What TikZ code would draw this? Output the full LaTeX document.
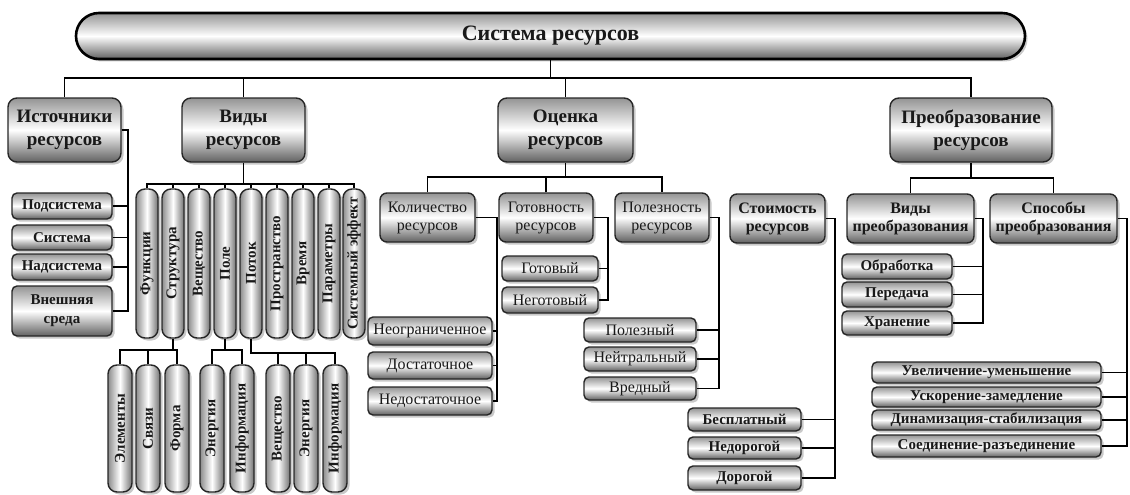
\documentclass[tikz,border=0pt]{standalone}
\usepackage{fontspec}
\usepackage{graphicx}
\setmainfont{Liberation Serif}
\usetikzlibrary{shadows}
\newcommand\mkbox[7]{%
  \pgfmathsetmacro\bxcx{(#2+#4)/2}%
  \pgfmathsetmacro\bxcy{(#3+#5)/2}%
  \pgfmathsetmacro\bxw{#4-#2}%
  \pgfmathsetmacro\bxh{#5-#3}%
  \node[#6, minimum width=\bxw pt, minimum height=\bxh pt] (#1) at (\bxcx,\bxcy) {#7};}
\newcommand\vlab[1]{\rotatebox{90}{#1}}
\tikzset{
  common/.style={draw=black!85, line width=1.4pt, align=center, inner sep=0pt, text=black!90,
    drop shadow={shadow xshift=2.5pt, shadow yshift=-2.5pt, opacity=0.3, fill=black!70}},
  vshade/.style={top color=black!42, bottom color=black!62, middle color=white},
  hshade/.style={left color=black!45, right color=black!55, middle color=white},
  topbar/.style={common, vshade, draw=black, line width=2.6pt, rounded corners=23pt,
    font=\fontsize{22}{26}\selectfont\bfseries},
  lvltwo/.style={common, vshade, rounded corners=9pt, font=\fontsize{19}{23}\selectfont\bfseries},
  lvlthree/.style={common, vshade, rounded corners=7pt, font=\fontsize{16}{18}\selectfont\bfseries},
  lvlthreer/.style={common, vshade, rounded corners=7pt, font=\fontsize{16}{18}\selectfont},
  smallb/.style={common, vshade, rounded corners=5pt, font=\fontsize{15}{19}\selectfont\bfseries},
  smallr/.style={common, vshade, rounded corners=5pt, font=\fontsize{16}{19}\selectfont},
  colbox/.style={common, hshade, rounded corners=9pt, font=\fontsize{15}{18}\selectfont\bfseries},
  conn/.style={draw=black, line width=1.2pt},
}
\begin{document}
\begin{tikzpicture}[x=1pt, y=-1pt]
\useasboundingbox (0,0) rectangle (1130,495);
% top
\mkbox{top}{76}{13}{1025}{59}{topbar}{Система ресурсов}
% level 2
\mkbox{ist}{8}{98}{121}{162}{lvltwo}{Источники\\ресурсов}
\mkbox{vidy}{182}{98}{305}{162}{lvltwo}{Виды\\ресурсов}
\mkbox{ocen}{498}{98}{633}{162}{lvltwo}{Оценка\\ресурсов}
\mkbox{preo}{890}{98}{1052}{162}{lvltwo}{Преобразование\\ресурсов}
% sources
\mkbox{podsys}{12}{193}{112}{219}{smallb}{Подсистема}
\mkbox{sys}{12}{225}{112}{250}{smallb}{Система}
\mkbox{nadsys}{12}{254}{112}{280}{smallb}{Надсистема}
\mkbox{vnesh}{12}{286}{112}{336}{smallb}{Внешняя\\среда}
% columns
\mkbox{c1}{136}{189}{158}{338}{colbox}{\vlab{Функции}}
\mkbox{c2}{162}{189}{184}{338}{colbox}{\vlab{Структура}}
\mkbox{c3}{188}{189}{210}{338}{colbox}{\vlab{Вещество}}
\mkbox{c4}{214}{189}{236}{338}{colbox}{\vlab{Поле}}
\mkbox{c5}{240}{189}{262}{338}{colbox}{\vlab{Поток}}
\mkbox{c6}{266}{189}{288}{338}{colbox}{\vlab{Пространство}}
\mkbox{c7}{292}{189}{314}{338}{colbox}{\vlab{Время}}
\mkbox{c8}{318}{189}{340}{338}{colbox}{\vlab{Параметры}}
\mkbox{c9}{343}{189}{365}{338}{colbox}{\vlab{Системный эффект}}
% sub columns
\mkbox{s1}{108}{365}{132}{492}{colbox}{\vlab{Элементы}}
\mkbox{s2}{136}{365}{160}{492}{colbox}{\vlab{Связи}}
\mkbox{s3}{165}{365}{189}{492}{colbox}{\vlab{Форма}}
\mkbox{s4}{200}{365}{224}{492}{colbox}{\vlab{Энергия}}
\mkbox{s5}{230}{365}{254}{492}{colbox}{\vlab{Информация}}
\mkbox{s6}{266}{365}{290}{492}{colbox}{\vlab{Вещество}}
\mkbox{s7}{294}{365}{318}{492}{colbox}{\vlab{Энергия}}
\mkbox{s8}{323}{365}{347}{492}{colbox}{\vlab{Информация}}
% evaluation
\mkbox{kol}{380}{193}{475}{242}{lvlthreer}{Количество\\ресурсов}
\mkbox{got}{499}{193}{593}{242}{lvlthreer}{Готовность\\ресурсов}
\mkbox{pol}{615}{193}{709}{242}{lvlthreer}{Полезность\\ресурсов}
\mkbox{stoim}{730}{194}{825}{243}{lvlthree}{Стоимость\\ресурсов}
\mkbox{neogr}{368}{317}{492}{345}{smallr}{Неограниченное}
\mkbox{dost}{368}{352}{492}{379}{smallr}{Достаточное}
\mkbox{nedost}{368}{387}{492}{415}{smallr}{Недостаточное}
\mkbox{gotov}{502}{256}{598}{281}{smallr}{Готовый}
\mkbox{negot}{502}{287}{598}{313}{smallr}{Неготовый}
\mkbox{polez}{584}{318}{696}{342}{smallr}{Полезный}
\mkbox{neitr}{584}{347}{696}{371}{smallr}{Нейтральный}
\mkbox{vred}{584}{377}{696}{400}{smallr}{Вредный}
\mkbox{besp}{688}{408}{801}{431}{smallb}{Бесплатный}
\mkbox{nedor}{688}{437}{801}{459}{smallb}{Недорогой}
\mkbox{dor}{688}{466}{801}{490}{smallb}{Дорогой}
% transformation
\mkbox{vidpr}{847}{194}{974}{243}{lvlthree}{Виды\\преобразования}
\mkbox{sposob}{990}{194}{1117}{243}{lvlthree}{Способы\\преобразования}
\mkbox{obr}{842}{254}{952}{279}{smallb}{Обработка}
\mkbox{pered}{842}{282}{952}{307}{smallb}{Передача}
\mkbox{hran}{842}{311}{952}{335}{smallb}{Хранение}
\mkbox{uvel}{872}{362}{1101}{383}{smallb}{Увеличение-уменьшение}
\mkbox{uskor}{872}{387}{1101}{407}{smallb}{Ускорение-замедление}
\mkbox{dinam}{872}{410}{1101}{430}{smallb}{Динамизация-стабилизация}
\mkbox{soed}{872}{435}{1101}{457}{smallb}{Соединение-разъединение}
% ---- connectors
\coordinate (busT) at (0,78);
\draw[conn] (top.south) -- (top.south |- busT);
\draw[conn] (ist.north) -- (ist.north |- busT) -- (preo.north |- busT) -- (preo.north);
\draw[conn] (vidy.north) -- (vidy.north |- busT);
\draw[conn] (ocen.north) -- (ocen.north |- busT);
% sources
\coordinate (xI) at (128,0);
\draw[conn] (ist.east) -- (ist.east -| xI) |- (vnesh.east);
\foreach \c in {podsys,sys,nadsys} \draw[conn] (\c.east) -- (\c.east -| xI);
% kinds
\coordinate (busV) at (0,184);
\draw[conn] (vidy.south) -- (vidy.south |- busV);
\draw[conn] (c1.north) -- (c1.north |- busV) -- (c9.north |- busV) -- (c9.north);
\foreach \c in {c2,c3,c4,c5,c6,c7,c8} \draw[conn] (\c.north) -- (\c.north |- busV);
\coordinate (busS) at (0,350);
\draw[conn] (c2.south) -- (c2.south |- busS);
\draw[conn] (s1.north) -- (s1.north |- busS) -- (s3.north |- busS) -- (s3.north);
\draw[conn] (s2.north) -- (s2.north |- busS);
\draw[conn] (c4.south) -- (c4.south |- busS);
\draw[conn] (s4.north) -- (s4.north |- busS) -- (s5.north |- busS) -- (s5.north);
\coordinate (busP) at (0,353);
\draw[conn] (c5.south) -- (c5.south |- busP) -- (s8.north |- busP) -- (s8.north);
\draw[conn] (s6.north) -- (s6.north |- busP);
\draw[conn] (s7.north) -- (s7.north |- busP);
% evaluation
\coordinate (busO) at (0,177);
\draw[conn] (ocen.south) -- (ocen.south |- busO);
\draw[conn] (kol.north) -- (kol.north |- busO) -- (pol.north |- busO) -- (pol.north);
\draw[conn] (got.north) -- (got.north |- busO);
\coordinate (xK) at (497,0);
\draw[conn] (kol.east) -- (kol.east -| xK) |- (nedost.east);
\foreach \c in {neogr,dost} \draw[conn] (\c.east) -- (\c.east -| xK);
\coordinate (xG) at (608,0);
\draw[conn] (got.east) -- (got.east -| xG) |- (negot.east);
\draw[conn] (gotov.east) -- (gotov.east -| xG);
\coordinate (xP) at (719,0);
\draw[conn] (pol.east) -- (pol.east -| xP) |- (vred.east);
\foreach \c in {polez,neitr} \draw[conn] (\c.east) -- (\c.east -| xP);
\coordinate (xS) at (835,0);
\draw[conn] (stoim.east) -- (stoim.east -| xS) |- (dor.east);
\foreach \c in {besp,nedor} \draw[conn] (\c.east) -- (\c.east -| xS);
% transformation
\coordinate (busR) at (0,178);
\draw[conn] (preo.south) -- (preo.south |- busR);
\draw[conn] (vidpr.north) -- (vidpr.north |- busR) -- (sposob.north |- busR) -- (sposob.north);
\coordinate (xVP) at (983,0);
\draw[conn] (vidpr.east) -- (vidpr.east -| xVP) |- (hran.east);
\foreach \c in {obr,pered} \draw[conn] (\c.east) -- (\c.east -| xVP);
\coordinate (xSP) at (1127,0);
\draw[conn] (sposob.east) -- (sposob.east -| xSP) |- (soed.east);
\foreach \c in {uvel,uskor,dinam} \draw[conn] (\c.east) -- (\c.east -| xSP);
\end{tikzpicture}
\end{document}
